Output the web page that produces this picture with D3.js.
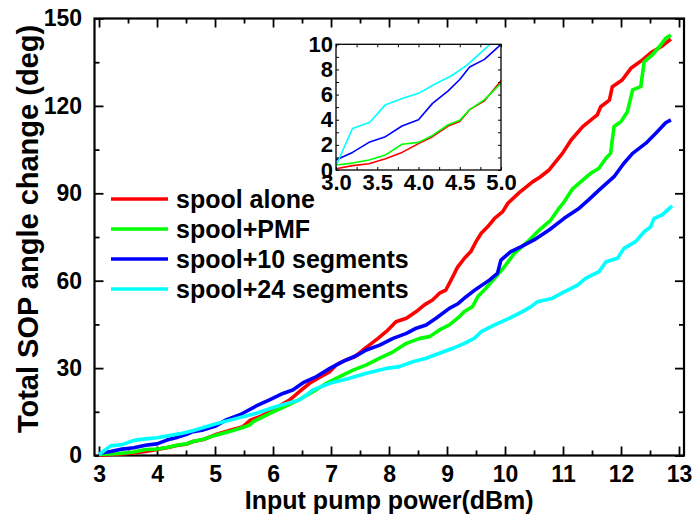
<!DOCTYPE html>
<html>
<head>
<meta charset="utf-8">
<script src="https://cdn.jsdelivr.net/npm/d3@7"></script>
<style>
body{margin:0;background:#fff;}
text{font-family:"Liberation Sans",Arial,sans-serif;font-weight:bold;}
</style>
</head>
<body>
<div id="displayChart"></div>
<script>
// input pump power (dBm) / total SOP angle change (deg)
const aloneX = [3.0,3.2,3.4,3.6,3.8,4.0,4.17,4.36,4.5,4.62,4.8,5.0,5.25,5.48,5.6,5.8,6.0,6.15,6.29,6.46,6.63,6.8,6.98,7.09,7.26,7.41,7.55,7.66,7.81,7.95,8.12,8.3,8.47,8.61,8.75,8.87,8.98,9.1,9.18,9.3,9.41,9.5,9.59,9.7,9.82,9.96,10.05,10.25,10.48,10.6,10.76,10.99,11.14,11.34,11.59,11.65,11.8,11.85,12.02,12.17,12.37,12.54,12.69,12.86];
const aloneY = [0.1,0.35,0.5,0.9,1.4,2.1,2.65,3.5,3.85,4.8,5.5,7.1,8.6,9.9,12.0,13.6,15.6,17.5,19.1,22.0,24.8,26.8,28.8,31.1,32.8,33.9,36.2,37.9,40.2,42.5,45.9,47.1,49.4,51.7,53.4,55.7,56.8,61.4,64.6,67.7,70.0,73.4,76.3,78.5,81.4,83.7,86.6,90.3,94.0,95.5,98.0,103.7,108.3,112.9,116.9,119.7,122.0,126.6,128.9,132.9,135.8,138.6,140.3,142.9];

const pmfX = [3.0,3.2,3.4,3.6,3.8,4.0,4.17,4.36,4.5,4.62,4.8,5.0,5.25,5.48,5.6,5.66,6.0,6.2,6.46,6.69,6.92,7.15,7.38,7.61,7.84,8.07,8.3,8.53,8.7,8.87,9.04,9.21,9.3,9.44,9.53,9.67,9.82,9.99,10.16,10.39,10.59,10.79,10.91,11.02,11.16,11.31,11.48,11.62,11.74,11.82,11.88,12.0,12.11,12.2,12.34,12.4,12.54,12.66,12.77,12.86];
const pmfY = [0.4,0.55,0.8,1.2,2.05,2.2,2.75,3.6,3.95,4.8,5.6,6.9,8.2,9.6,10.5,11.6,15.0,16.8,19.3,21.9,24.8,27.1,29.3,31.1,33.4,35.6,38.5,40.2,40.8,43.1,44.8,47.6,49.4,51.1,54.5,57.4,60.8,64.8,69.4,73.4,77.4,80.8,84.3,87.1,91.4,94.0,96.9,98.6,102.0,103.7,112.9,114.6,118.0,125.5,126.6,135.2,137.5,140.3,143.2,144.3];

const seg10X = [3.0,3.2,3.4,3.6,3.8,4.0,4.17,4.36,4.5,4.62,4.8,5.0,5.2,5.43,5.71,5.94,6.17,6.34,6.52,6.75,6.98,7.2,7.46,7.61,7.84,8.07,8.3,8.47,8.64,8.81,9.04,9.18,9.33,9.5,9.73,9.87,9.93,10.1,10.28,10.5,10.76,11.02,11.28,11.45,11.62,11.88,12.05,12.2,12.43,12.6,12.77,12.86];
const seg10Y = [0.8,1.4,2.2,2.65,3.5,4.0,5.3,6.3,7.2,8.2,8.8,10.0,12.3,14.0,17.0,19.1,21.3,22.5,25.0,27.1,29.9,32.2,34.5,36.2,37.9,40.2,41.9,43.7,44.8,47.1,50.5,52.0,54.5,57.1,60.2,62.5,67.1,70.0,71.7,74.0,77.4,81.4,84.9,87.9,91.1,95.7,100.3,103.7,107.2,110.6,114.2,115.2];

const seg24X = [3.0,3.2,3.41,3.6,3.81,4.0,4.19,4.4,4.58,4.76,5.0,5.31,5.71,6.06,6.46,6.69,6.98,7.32,7.61,7.95,8.18,8.41,8.64,8.87,9.1,9.3,9.47,9.59,9.82,10.07,10.3,10.45,10.56,10.82,11.02,11.25,11.39,11.62,11.74,11.94,12.05,12.25,12.4,12.51,12.57,12.71,12.88];
const seg24Y = [0.35,3.3,3.8,5.2,5.7,6.1,6.8,7.5,8.3,9.35,10.8,12.4,14.5,16.8,19.1,22.5,24.8,26.5,28.2,29.9,30.5,32.2,33.4,35.1,36.8,38.5,40.2,42.5,44.8,47.1,49.4,51.1,52.8,54.0,56.2,58.5,60.8,63.1,66.5,67.7,71.1,73.4,76.8,78.5,81.4,82.6,85.7];

const seriesNames = ["spool alone", "spool+PMF", "spool+10 segments", "spool+24 segments"];

// tick labels
const xTicks = [3,4,5,6,7,8,9,10,11,12,13];
const yTicks = [0,30,60,90,120,150];
const insetXTicks = [3.0,3.5,4.0,4.5,5.0];
const insetYTicks = [0,2,4,6,8,10];

//putting the series together
const xsAll = [aloneX, pmfX, seg10X, seg24X];
const ysAll = [aloneY, pmfY, seg10Y, seg24Y];
const colors = ["#ff0000", "#00ff00", "#0000ff", "#00ffff"];
const series = seriesNames.map((name, k) => ({
    name: name,
    color: colors[k],
    points: xsAll[k].map((v, i) => ({x: v, y: ysAll[k][i]}))
}));

let svg = d3.select("#displayChart")
    .append("svg")
    .attr("width", 696)
    .attr("height", 517);

// main scales, frame goes a bit past 3 and 13
let xScale = d3.scaleLinear().domain([2.922, 13.086]).range([94.5, 684]);
let yScale = d3.scaleLinear().domain([0, 150]).range([455.5, 18.5]);

// helper to draw one axis and style it
function drawAxis(axis, tx, ty, size, width){
    let g = svg.append("g")
        .attr("transform", "translate(" + tx + "," + ty + ")")
        .call(axis)
        .attr("font-size", size)
        .attr("font-family", "Liberation Sans, Arial, sans-serif")
        .attr("font-weight", "bold");
    g.select(".domain").remove();
    g.selectAll("line").attr("stroke", "#000").attr("stroke-width", width || 1.8);
    g.selectAll("text").attr("fill", "#000");
    return g;
}

let halfSteps = d3.range(3.5, 13, 1);
let fifteens = [15, 45, 75, 105, 135];

//bottom x-axis
drawAxis(d3.axisBottom(xScale).tickValues(halfSteps).tickSize(-5).tickFormat(""), 0, yScale(0), 23);
drawAxis(d3.axisBottom(xScale).tickValues(xTicks).tickSize(-9).tickPadding(10).tickFormat(d3.format("d")), 0, yScale(0), 23);
//top x-axis (ticks only)
drawAxis(d3.axisTop(xScale).tickValues(halfSteps).tickSize(-5).tickFormat(""), 0, yScale(150), 23);
drawAxis(d3.axisTop(xScale).tickValues(xTicks).tickSize(-9).tickFormat(""), 0, yScale(150), 23);
//left y-axis
drawAxis(d3.axisLeft(yScale).tickValues(fifteens).tickSize(-5).tickFormat(""), xScale.range()[0], 0, 23);
drawAxis(d3.axisLeft(yScale).tickValues(yTicks).tickSize(-9).tickPadding(12.5).tickFormat(d3.format("d")), xScale.range()[0], 0, 23);
//right y-axis (ticks only)
drawAxis(d3.axisRight(yScale).tickValues(fifteens).tickSize(-5).tickFormat(""), xScale.range()[1], 0, 23);
drawAxis(d3.axisRight(yScale).tickValues(yTicks).tickSize(-9).tickFormat(""), xScale.range()[1], 0, 23);

//frame
svg.append("rect")
    .attr("x", xScale.range()[0]).attr("y", yScale.range()[1])
    .attr("width", xScale.range()[1] - xScale.range()[0])
    .attr("height", yScale.range()[0] - yScale.range()[1])
    .attr("fill", "none").attr("stroke", "#000").attr("stroke-width", 2.2);

// main curves
let line = d3.line().x(d => xScale(d.x)).y(d => yScale(d.y));
svg.append("g").selectAll("path")
    .data(series)
    .enter().append("path")
    .attr("d", d => line(d.points))
    .attr("fill", "none")
    .attr("stroke", d => d.color)
    .attr("stroke-width", 3.6)
    .attr("stroke-linejoin", "round");

//axis titles
svg.append("text")
    .attr("x", (xScale.range()[0] + xScale.range()[1]) / 2)
    .attr("y", 509)
    .attr("text-anchor", "middle")
    .attr("font-size", 25)
    .text("Input pump power(dBm)");

svg.append("text")
    .attr("transform", "translate(38,229) rotate(-90)")
    .attr("text-anchor", "middle")
    .attr("font-size", 29)
    .text("Total SOP angle change (deg)");

//legend
let legend = svg.append("g").selectAll("g")
    .data(series)
    .enter().append("g")
    .attr("transform", (d, i) => "translate(0," + (199 + i * 30) + ")");
legend.append("line")
    .attr("x1", 111).attr("x2", 168)
    .attr("stroke", d => d.color).attr("stroke-width", 3.6);
legend.append("text")
    .attr("x", 176).attr("dy", "0.35em")
    .attr("font-size", 25)
    .text(d => d.name);

// INSET: zoom on 3.0 - 5.0 dBm
let ix = d3.scaleLinear().domain([3, 5]).range([336, 501]);
let iy = d3.scaleLinear().domain([0, 10]).range([170, 44.3]);

svg.append("rect")
    .attr("x", ix.range()[0]).attr("y", iy.range()[1])
    .attr("width", ix.range()[1] - ix.range()[0])
    .attr("height", iy.range()[0] - iy.range()[1])
    .attr("fill", "#fff");

svg.append("clipPath").attr("id", "insetClip")
    .append("rect")
    .attr("x", ix.range()[0]).attr("y", iy.range()[1])
    .attr("width", ix.range()[1] - ix.range()[0])
    .attr("height", iy.range()[0] - iy.range()[1]);

let insetLine = d3.line().x(d => ix(d.x)).y(d => iy(d.y));
svg.append("g").attr("clip-path", "url(#insetClip)")
    .selectAll("path")
    .data(series)
    .enter().append("path")
    .attr("d", d => insetLine(d.points))
    .attr("fill", "none")
    .attr("stroke", d => d.color)
    .attr("stroke-width", 1.6)
    .attr("stroke-linejoin", "round");

let quarterSteps = d3.range(3, 5.01, 0.25);
let unitSteps = d3.range(0, 10.01, 1);

//inset ticks and labels
drawAxis(d3.axisBottom(ix).tickValues(quarterSteps).tickSize(-3).tickFormat(""), 0, iy(0), 22, 1);
drawAxis(d3.axisBottom(ix).tickValues(insetXTicks).tickSize(0).tickPadding(4).tickFormat(d3.format(".1f")), 0, iy(0), 22, 1);
drawAxis(d3.axisTop(ix).tickValues(quarterSteps).tickSize(-3).tickFormat(""), 0, iy(10), 22, 1);
drawAxis(d3.axisLeft(iy).tickValues(unitSteps).tickSize(-3).tickFormat(""), ix(3), 0, 22, 1);
drawAxis(d3.axisLeft(iy).tickValues(insetYTicks).tickSize(0).tickPadding(3).tickFormat(d3.format("d")), ix(3), 0, 22, 1);
drawAxis(d3.axisRight(iy).tickValues(unitSteps).tickSize(-3).tickFormat(""), ix(5), 0, 22, 1);

svg.append("rect")
    .attr("x", ix.range()[0]).attr("y", iy.range()[1])
    .attr("width", ix.range()[1] - ix.range()[0])
    .attr("height", iy.range()[0] - iy.range()[1])
    .attr("fill", "none").attr("stroke", "#000").attr("stroke-width", 1.3);
</script>
</body>
</html>
